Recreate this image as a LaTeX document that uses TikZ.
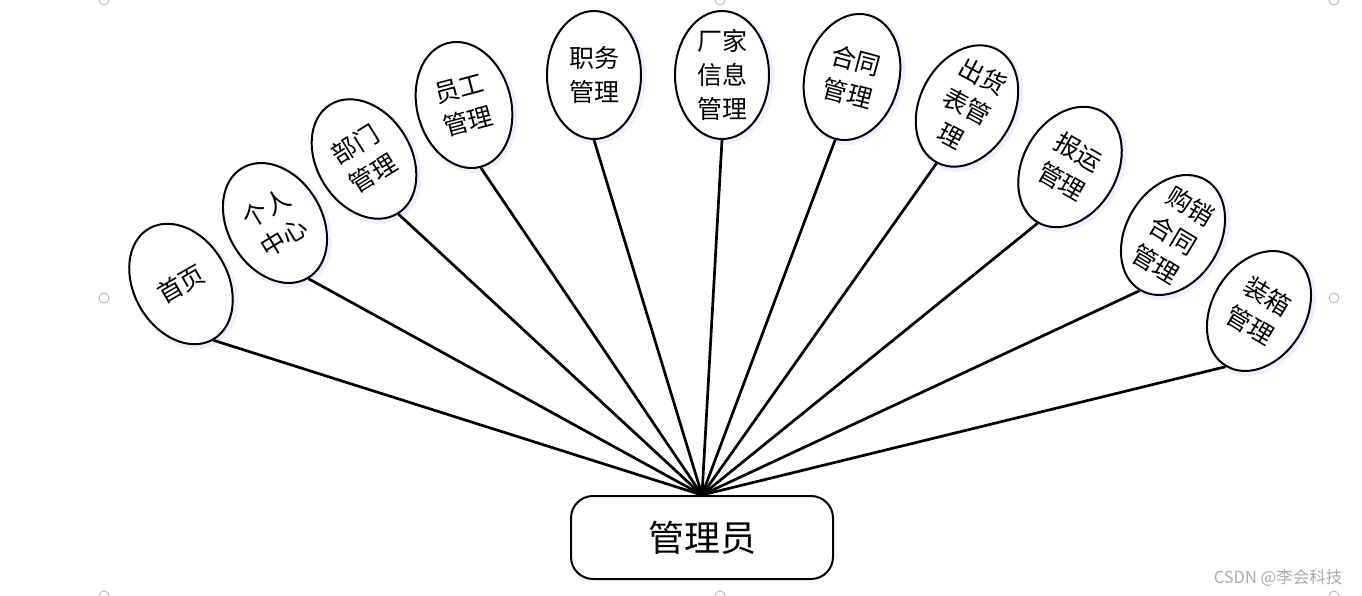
\documentclass[tikz,border=0pt]{standalone}
\usepackage{fontspec}
\setmainfont{Noto Sans CJK SC}
\usetikzlibrary{shapes.geometric}
\newcommand\bubble[5]{%
  \node[bubglow, rotate=#4] at (#2+2,#3+2) {};
  \node[bub, rotate=#4] (#1) at (#2,#3) {};
  \node[lbl, rotate=#4] (#1t) at (#2,#3) {#5};
}
\begin{document}
\begin{tikzpicture}[x=1pt,y=-1pt,
  bub/.style={ellipse, draw=black, line width=2pt, minimum width=94pt, minimum height=128pt, inner sep=0pt, fill=white},
  bubglow/.style={ellipse, draw=blue!6, line width=6pt, minimum width=94pt, minimum height=128pt, inner sep=0pt},
  lbl/.style={align=center, font=\fontsize{25}{34}\selectfont, inner sep=0pt},
  link/.style={line width=2.7pt},
  handle/.style={circle, draw=gray!60, line width=0.8pt, minimum size=10pt, inner sep=0pt, fill=white},
  hubbox/.style={draw=black, line width=2pt, rounded corners=22pt, minimum width=262pt, minimum height=83pt, inner sep=0pt, fill=white, font=\fontsize{36}{40}\selectfont},
  wmark/.style={text=gray!65, font=\fontsize{16.5}{18}\selectfont, inner sep=0pt}]
\useasboundingbox (0,0) rectangle (1362,596);
\fill[white] (0,0) rectangle (1362,596);

\node[handle] (h1) at (104,0) {};
\node[handle] (h2) at (720,0) {};
\node[handle] (h3) at (1334,0) {};
\node[handle] (h4) at (104,298) {};
\node[handle] (h5) at (1334,298) {};
\node[handle] (h6) at (104,596) {};
\node[handle] (h7) at (720,596) {};
\node[handle] (h8) at (1334,596) {};

\bubble{e1}{181}{284}{30}{首页}
\bubble{e2}{275}{223}{31}{个人\\中心}
\bubble{e3}{364}{159}{32}{部门\\管理}
\bubble{e4}{464}{105}{15}{员工\\管理}
\bubble{e5}{594}{75}{0}{职务\\管理}
\bubble{e6}{722}{75}{0}{厂家\\信息\\管理}
\bubble{e7}{852}{77}{-15}{合同\\管理}
\bubble{e8}{967}{106}{-28}{出货\\表管\\理}
\bubble{e9}{1070}{167}{-30}{报运\\管理}
\bubble{e10}{1173}{235}{-31}{购销\\合同\\管理}
\bubble{e11}{1259}{311}{-31}{装箱\\管理}

\node[hubbox] (box) at (702,537.5) {管理员};

\foreach \n in {e1,e2,e3,e4,e5,e6,e7,e8,e9,e10,e11}
  \draw[link] (\n.south) -- (box.north);

\node[wmark] (wm) at (1278,578) {CSDN @李会科技};
\end{tikzpicture}
\end{document}
